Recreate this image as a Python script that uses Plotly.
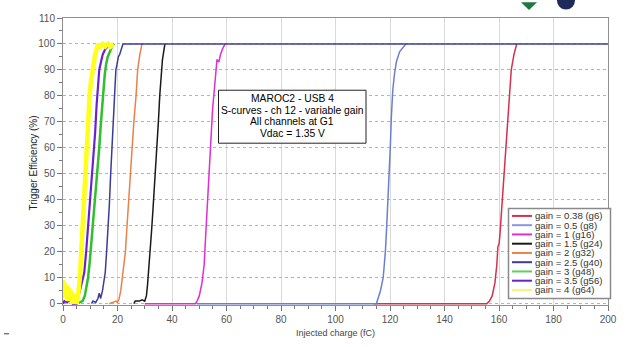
import plotly.graph_objects as go

# ---------------- data ----------------
names = ["gain = 0.38 (g6)", "gain = 0.5 (g8)", "gain = 1 (g16)", "gain = 1.5 (g24)",
         "gain = 2 (g32)", "gain = 2.5 (g40)", "gain = 3 (g48)", "gain = 3.5 (g56)",
         "gain = 4 (g64)"]

g6_x = [114, 155.5, 156.5, 157.5, 158.5, 159.2, 159.6, 160.0, 160.3, 161.0, 162.0, 163.0, 164.0, 164.5, 165.5, 166.5]
g6_y = [0, 0, 1, 3, 8, 15, 22, 23, 26, 37, 52, 68, 84, 90, 96, 100]

g8_x = [49, 115.0, 115.6, 116.5, 117.5, 118.3, 118.8, 119.3, 119.7, 120.1, 120.5, 121.0, 121.6, 122.3, 123.5, 125.8]
g8_y = [0, 0, 2, 5, 10, 20, 30, 40, 50, 60, 72, 82, 88, 93, 97, 100]

g16_x = [30, 48.5, 49.2, 50.0, 51.0, 51.8, 52.3, 52.8, 53.3, 53.8, 54.3, 54.9, 55.5, 56.0, 56.5, 57.2, 57.8, 58.5, 59.5]
g16_y = [0, 0, 1, 3, 8, 15, 25, 35, 45, 55, 65, 75, 82, 90, 94, 93, 96, 98, 100]

g24_x = [26, 26.5, 28, 29, 30, 30.6, 31, 31.4, 31.9, 32.5, 33, 33.6, 34, 34.5, 35, 35.5, 36, 36.5, 37.4]
g24_y = [0, 1, 1, 1.5, 1, 3, 7, 12, 20, 28, 36, 45, 52, 62, 70, 80, 89, 94, 100]

g32_x = [17, 18.5, 19.5, 20, 20.6, 21.2, 21.8, 22.4, 22.9, 23.5, 24.1, 24.7, 25.3, 26, 26.8, 27.4, 28.2, 29]
g32_y = [0, 0.5, 1, 0.5, 2, 5, 10, 15, 20, 30, 40, 50, 60, 70, 80, 90, 96, 100]

g40_x = [10.5, 11, 12, 12.8, 13.3, 13.8, 14.5, 15, 15.5, 16, 16.5, 17, 17.5, 18, 18.5, 18.9, 19.4, 19.8, 20.3, 20.8, 21.5, 22, 200]
g40_y = [0, 1, 0.5, 2, 4, 2, 5, 8, 12, 20, 28, 38, 50, 60, 72, 82, 90, 92, 95, 96, 99, 100, 100]

g48_x = [5, 6.5, 7.2, 8, 8.6, 9.2, 9.8, 10.3, 10.9, 11.5, 12.1, 12.7, 13.3, 13.8, 14.3, 14.8, 15.3, 15.8, 16.4, 17.2, 18, 18.8]
g48_y = [0, 0.5, 1, 3, 6, 10, 16, 22, 30, 37, 45, 53, 60, 68, 76, 83, 88, 92, 95, 97, 99, 100]

g56_x = [0, 0.5, 1.5, 2.5, 3.5, 4.8, 5.5, 6.2, 7, 7.8, 8.5, 9, 9.6, 10.2, 10.8, 11.3, 11.8, 12.3, 12.8, 13.3, 13.9, 14.6, 15.5, 16.5, 17.3]
g56_y = [0, 1, 0.5, 1.5, 0, 0, 2, 5, 8, 12, 20, 27, 35, 42, 50, 58, 66, 76, 84, 90, 93, 96, 98, 99, 100]

g64_x = [0, 0.3, 0.6, 1, 1.4, 1.8, 2.2, 2.6, 3, 3.4, 3.8, 4.2, 4.6, 5, 5.4, 5.8, 6.2, 6.6, 7, 7.4,
         7.8, 8.2, 8.6, 9.0, 9.4, 9.8, 10.3, 10.8, 11.3, 11.8, 12.3, 12.8, 13.5, 14.5, 15.5, 16.5, 17.5, 18.5]
g64_y = [9, 2, 8, 3, 7, 1, 6, 2, 5, 0, 4, 1, 3, 0, 2, 5, 10, 18, 27, 36,
         45, 53, 61, 68, 75, 81, 86, 90, 94, 96, 98, 100, 99, 100, 99, 100, 99, 100]

xs = [g6_x, g8_x, g16_x, g24_x, g32_x, g40_x, g48_x, g56_x, g64_x]
ys = [g6_y, g8_y, g16_y, g24_y, g32_y, g40_y, g48_y, g56_y, g64_y]

x_ticks = [0, 20, 40, 60, 80, 100, 120, 140, 160, 180, 200]
y_ticks = [0, 10, 20, 30, 40, 50, 60, 70, 80, 90, 100, 110]

info_lines = ["MAROC2 - USB 4", "S-curves - ch 12 - variable gain", "All channels at G1", "Vdac = 1.35 V"]

# ---------------- styles ----------------
colors = ["#d6304e", "#6a7fd4", "#e02ed0", "#1a1a1a", "#e8824a", "#3c3c98", "#2fbf2f", "#6a22cc", "#ffff1a"]
widths = [1.5, 1.5, 1.5, 1.5, 1.5, 1.5, 2.5, 2.2, 4.5]
legend_colors = ["#d6304e", "#8a95dc", "#e02ed0", "#1a1a1a", "#e8824a", "#3c3c98", "#5fcf5f", "#6a22cc", "#f6f67a"]

W, H = 634, 347
L, R, T, B = 63, 608, 15, 305
PW, PH = R - L, B - T


def xp(px):
    return (px - L) / PW


def yp(py):
    return (B - py) / PH


FONT = "Liberation Sans, Arial, sans-serif"

fig = go.Figure()
for x, y, n, c, w in zip(xs, ys, names, colors, widths):
    fig.add_trace(go.Scatter(x=x, y=y, mode="lines", name=n,
                             line=dict(color=c, width=w), showlegend=False))

shapes = []
annotations = []

# info box
shapes.append(dict(type="rect", xref="paper", yref="paper",
                   x0=xp(218.5), x1=xp(366), y0=yp(88), y1=yp(141.5),
                   line=dict(color="#222", width=1), fillcolor="white", layer="above"))
for i, t in enumerate(info_lines):
    annotations.append(dict(text=t, xref="paper", yref="paper", x=xp(292), y=yp(96.5 + 11.7 * i),
                            xanchor="center", yanchor="middle", showarrow=False, borderpad=0,
                            font=dict(family=FONT, size=10.3, color="#000")))

# legend (drawn by hand for compact row spacing)
shapes.append(dict(type="rect", xref="paper", yref="paper",
                   x0=xp(508.5), x1=xp(610.5), y0=yp(207.5), y1=yp(298.5),
                   line=dict(color="#8a8a8a", width=1.5), fillcolor="white", layer="above"))
for i, (n, c) in enumerate(zip(names, legend_colors)):
    ry = 215 + 9.35 * i
    shapes.append(dict(type="line", xref="paper", yref="paper",
                       x0=xp(512), x1=xp(532), y0=yp(ry), y1=yp(ry),
                       line=dict(color=c, width=2), layer="above"))
    annotations.append(dict(text=n, xref="paper", yref="paper", x=xp(534), y=yp(ry),
                            xanchor="left", yanchor="middle", showarrow=False, borderpad=0,
                            font=dict(family=FONT, size=9.6, color="#333")))

# axis titles
annotations.append(dict(text="Trigger Efficiency (%)", xref="paper", yref="paper",
                        x=xp(33), y=yp(162), textangle=-90, xanchor="center", yanchor="middle",
                        showarrow=False, font=dict(family=FONT, size=10, color="#222")))
annotations.append(dict(text="Injected charge (fC)", xref="paper", yref="paper",
                        x=xp(335), y=yp(333), xanchor="center", yanchor="middle",
                        showarrow=False, font=dict(family=FONT, size=9, color="#444")))

# logo fragments at top edge
shapes.append(dict(type="circle", xref="paper", yref="paper",
                   x0=xp(557), x1=xp(575), y0=yp(-12), y1=yp(6.5),
                   line=dict(width=0), fillcolor="#1f2a5c", layer="above"))
shapes.append(dict(type="path", xref="paper", yref="paper",
                   path=f"M {xp(521)} {yp(-1)} L {xp(537)} {yp(-1)} L {xp(529)} {yp(7)} Z",
                   line=dict(width=0), fillcolor="#1e7a3c", layer="above"))
# small dash mark at the bottom-left corner
shapes.append(dict(type="line", xref="paper", yref="paper",
                   x0=xp(4), x1=xp(9), y0=yp(334), y1=yp(334),
                   line=dict(color="#777", width=1.5), layer="above"))

fig.update_layout(
    width=W, height=H,
    margin=dict(l=L, r=W - R, t=T, b=H - B),
    paper_bgcolor="white", plot_bgcolor="white",
    shapes=shapes, annotations=annotations,
    font=dict(family=FONT, size=10, color="#444"),
)
fig.update_xaxes(range=[0, 200], tickvals=x_ticks, ticktext=[str(v) for v in x_ticks],
                 showgrid=True, gridcolor="#dadada", gridwidth=1,
                 showline=True, linecolor="#8f8f8f", linewidth=1, mirror=True,
                 ticks="outside", ticklen=5, tickcolor="#777",
                 minor=dict(dtick=5, tick0=0, ticks="outside", ticklen=3, tickcolor="#777", showgrid=False),
                 zeroline=False, tickfont=dict(family=FONT, size=10, color="#555"))
fig.update_yaxes(range=[-0.5, 110], tickvals=y_ticks, ticktext=[str(v) for v in y_ticks],
                 showgrid=True, gridcolor="#b4b4b4", griddash="dot", gridwidth=1,
                 showline=True, linecolor="#8f8f8f", linewidth=1, mirror=True,
                 ticks="outside", ticklen=5, tickcolor="#777",
                 minor=dict(dtick=5, tick0=0, ticks="outside", ticklen=3, tickcolor="#777", showgrid=False),
                 zeroline=False, tickfont=dict(family=FONT, size=10, color="#555"))

fig.write_html("out.html")
